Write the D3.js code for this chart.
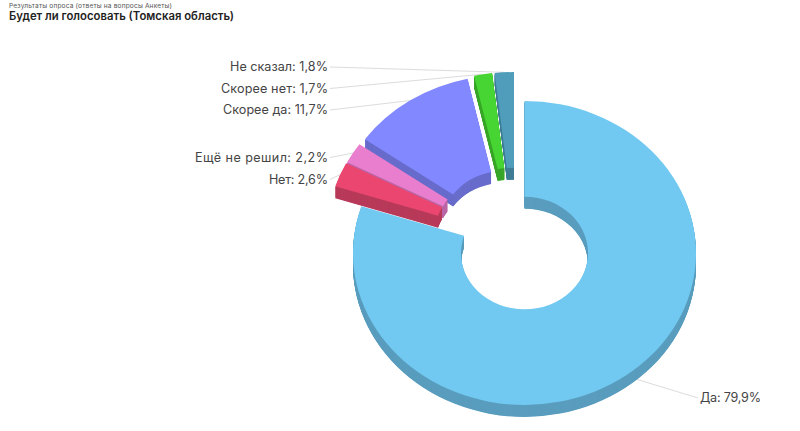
<!DOCTYPE html>
<html><head><meta charset="utf-8">
<script src="https://cdn.jsdelivr.net/npm/d3@7"></script>
<style>html,body{margin:0;padding:0;background:#fff}svg{display:block}text{font-family:Inter,"Open Sans",sans-serif}</style>
</head><body><svg id="c" width="800" height="431"></svg>
<script>
const categories = ["Да","Нет","Ещё не решил","Скорее да","Скорее нет","Не сказал"];
const values = [79.9,2.6,2.2,11.7,1.7,1.8];
const valueLabels = ["79,9%","2,6%","2,2%","11,7%","1,7%","1,8%"];
const topColors = ["#71C9F1","#EB4670","#EA7ECE","#8288FF","#46D532","#4F9CBB"];
const wallColors = ["#5A9DBE","#B83A5A","#BB65A5","#686CCB","#38A628","#3F7D95"];
const pullX = [0,-26,-25,-19.5,-13,-10.5];
const pullY = [0,-19,-20,-25,-28,-28];
const labelX = [700,328,328,328,328,328];
const labelY = [398,179.5,157.5,110,88.5,67];
const labelW = [61,59,133,105,107,98];
const drawOrder = [0,3,2,1,4,5];

const svg = d3.select("#c");
const cx=524.5, cy=253, rx=171.5, squash=0.886, rIn=63.5, depth=12;

svg.append("text").attr("x",9).attr("y",7.5).attr("font-size",6.6).attr("fill","#555")
  .attr("textLength",163).text("Результаты опроса (ответы на вопросы Анкеты)");
svg.append("text").attr("x",9).attr("y",19.5).attr("font-size",11.3).attr("font-weight",600).attr("fill","#222")
  .attr("textLength",225).text("Будет ли голосовать (Томская область)");

const pie = d3.pie().sort(null).value(d=>d.v).startAngle(0).endAngle(2*Math.PI);
const arcs = pie(categories.map((c,i)=>({c,v:values[i],i})));
const arc = d3.arc().innerRadius(rIn).outerRadius(rx);

arcs.forEach((a,i)=>{
  const m=(a.startAngle+a.endAngle)/2;
  const top=i===0?0:-1;
  const px=cx+pullX[i]+rx*Math.sin(m), py=cy+top+pullY[i]-rx*squash*Math.cos(m);
  const right=i===0;
  svg.append("line").attr("x1",labelX[i]+(right?-2:2)).attr("y1",labelY[i]).attr("x2",px).attr("y2",py)
    .attr("stroke","#dcdcdc").attr("stroke-width",1);
});

drawOrder.forEach(i=>{
  const a=arcs[i], g=svg.append("g");
  const d=arc(a);
  const y0=cy+pullY[i]+(i===0?0:-1);
  for(let k=depth;k>=1;k-=0.5){
    g.append("path").attr("d",d).attr("fill",wallColors[i])
     .attr("transform",`translate(${cx+pullX[i]},${y0+k}) scale(1,${squash})`);
  }
  g.append("path").attr("d",d).attr("fill",topColors[i])
     .attr("transform",`translate(${cx+pullX[i]},${y0}) scale(1,${squash})`);
});

categories.forEach((c,i)=>{
  svg.append("text").attr("x",labelX[i]).attr("y",labelY[i]).attr("dy","0.35em")
    .attr("text-anchor",i===0?"start":"end").attr("font-size",12.6).attr("fill","#444")
    .attr("textLength",labelW[i])
    .text(c+": "+valueLabels[i]);
});
</script></body></html>
